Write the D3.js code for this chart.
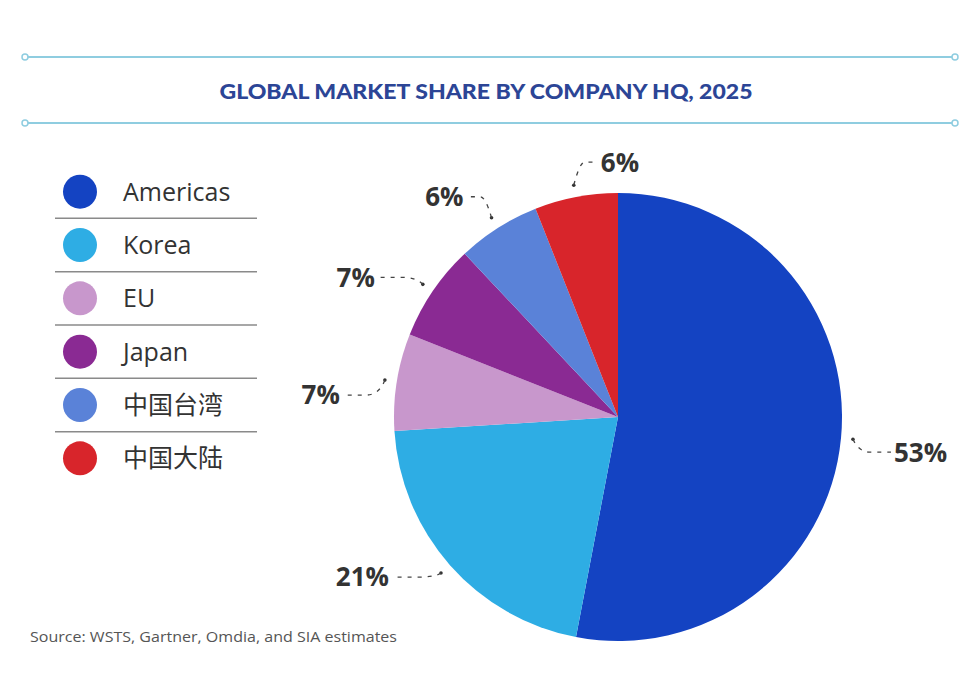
<!DOCTYPE html>
<html>
<head>
<meta charset="utf-8">
<script src="https://cdn.jsdelivr.net/npm/d3@7"></script>
<style>
  body { margin: 0; background: #fff; }
  svg { display: block; font-family: "Open Sans", "Noto Sans CJK SC", sans-serif; }
</style>
</head>
<body>
<div id="chart"></div>
<script>
// datos del grafico
var regiones = ["Americas", "Korea", "EU", "Japan", "中国台湾", "中国大陆"];
var cuotas = [53, 21, 7, 7, 6, 6];
var etiquetas = ["53%", "21%", "7%", "7%", "6%", "6%"];
var colores = ["#1443c2", "#2eade4", "#c897cc", "#8a2a93", "#5a82d8", "#d8252b"];

var titulo = "GLOBAL MARKET SHARE BY COMPANY HQ, 2025";
var fuente = "Source: WSTS, Gartner, Omdia, and SIA estimates";

var width = 979, height = 686;

var svg = d3.select("#chart").append("svg")
    .attr("width", width)
    .attr("height", height);

// lineas del titulo con circulitos en los extremos
[57, 123].forEach(function(yy) {
    svg.append("line")
        .attr("x1", 28).attr("x2", 952)
        .attr("y1", yy).attr("y2", yy)
        .attr("stroke", "#8fcde0")
        .attr("stroke-width", 2);
    [25, 955].forEach(function(xx) {
        svg.append("circle")
            .attr("cx", xx).attr("cy", yy).attr("r", 3)
            .attr("fill", "#fff")
            .attr("stroke", "#8fcde0")
            .attr("stroke-width", 1.5);
    });
});

svg.append("text")
    .attr("x", 486)
    .attr("y", 99)
    .attr("text-anchor", "middle")
    .attr("textLength", 533)
    .attr("lengthAdjust", "spacingAndGlyphs")
    .style("font-family", "Lato, 'Open Sans', sans-serif")
    .style("font-weight", 900)
    .style("font-size", "20px")
    .style("fill", "#2c4596")
    .text(titulo);

// leyenda
var leyenda = d3.scaleBand()
    .domain(regiones)
    .range([165, 485]);

var items = svg.append("g").selectAll("g")
    .data(regiones)
    .enter().append("g")
    .attr("transform", function(d) {
        return "translate(0," + (leyenda(d) + leyenda.bandwidth() / 2) + ")";
    });

items.append("circle")
    .attr("cx", 80)
    .attr("cy", 0)
    .attr("r", 17)
    .attr("fill", function(d, i) { return colores[i]; });

items.append("text")
    .attr("x", 123)
    .attr("y", 0)
    .attr("dy", "0.36em")
    .style("font-size", "25px")
    .style("fill", "#333")
    .text(function(d) { return d; });

items.filter(function(d, i) { return i < regiones.length - 1; })
    .append("line")
    .attr("x1", 55).attr("x2", 257)
    .attr("y1", leyenda.bandwidth() / 2)
    .attr("y2", leyenda.bandwidth() / 2)
    .attr("stroke", "#8a8a8a")
    .attr("stroke-width", 1.5);

// pastel
var cx = 618, cy = 417, radio = 224;

var pie = d3.pie().sort(null).value(function(d) { return d; });
var arcos = pie(cuotas);

var arco = d3.arc().innerRadius(0).outerRadius(radio);
var arcoPunto = d3.arc().innerRadius(radio + 12).outerRadius(radio + 12);

var g = svg.append("g")
    .attr("transform", "translate(" + cx + "," + cy + ")");

g.selectAll("path.slice")
    .data(arcos)
    .enter().append("path")
    .attr("class", "slice")
    .attr("d", arco)
    .attr("fill", function(d, i) { return colores[i]; });

// ajuste de etiquetas respecto al punto guia (dx, dy)
var ajusteEtiqueta = [[41, 13], [-52, 4], [-45, 15], [-48, -7], [-28, -21], [27, -23]];

arcos.forEach(function(d, i) {
    var p = arcoPunto.centroid(d);
    var lx = p[0] + ajusteEtiqueta[i][0];
    var ly = p[1] + ajusteEtiqueta[i][1];
    var derecha = ajusteEtiqueta[i][0] > 0;
    var finX = derecha ? lx - 3 : lx + 3;

    g.append("circle")
        .attr("cx", p[0]).attr("cy", p[1]).attr("r", 1.8)
        .attr("fill", "#333");

    g.append("path")
        .attr("d", "M" + p[0] + "," + p[1] +
            "Q" + (p[0] + (derecha ? 6 : -6)) + "," + ly + " " +
            (p[0] + (finX - p[0]) * 0.45) + "," + ly +
            "L" + finX + "," + ly)
        .attr("fill", "none")
        .attr("stroke", "#444")
        .attr("stroke-width", 1.3)
        .attr("stroke-dasharray", "4,6");

    g.append("text")
        .attr("x", lx)
        .attr("y", ly)
        .attr("dy", "0.36em")
        .attr("text-anchor", derecha ? "start" : "end")
        .style("font-weight", 700)
        .style("font-size", "26px")
        .style("fill", "#333")
        .text(etiquetas[i]);
});

// fuente
svg.append("text")
    .attr("x", 30)
    .attr("y", 642)
    .attr("textLength", 367)
    .attr("lengthAdjust", "spacingAndGlyphs")
    .style("font-size", "15px")
    .style("fill", "#555")
    .text(fuente);
</script>
</body>
</html>
